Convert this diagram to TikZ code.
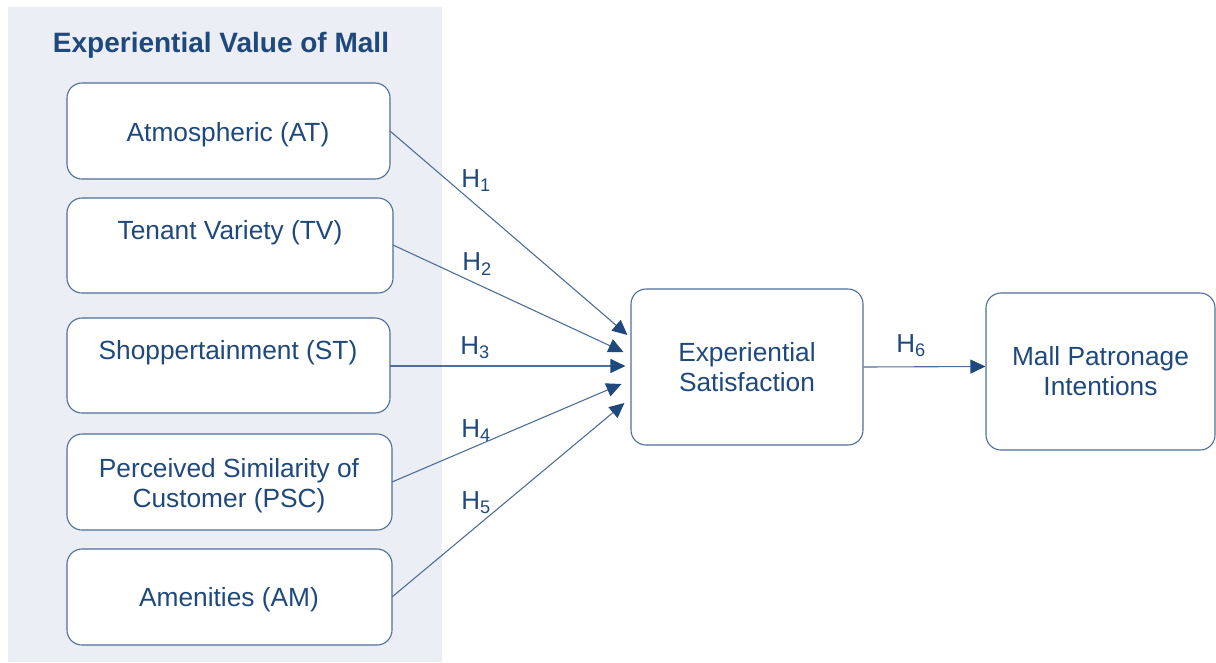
\documentclass[tikz,border=0pt]{standalone}
\usepackage{fontspec}
\setmainfont{Liberation Sans}
\usetikzlibrary{arrows.meta,calc}
\definecolor{panel}{HTML}{EBEEF4}
\definecolor{ink}{HTML}{1F497D}
\definecolor{edge}{HTML}{4F6E9A}
\tikzset{
  box/.style={draw=edge, line width=1.1pt, rounded corners=15pt, fill=white,
    inner sep=0pt},
  txt/.style={text=ink, align=center, font=\fontsize{26.3}{30}\selectfont, inner sep=0pt},
  hyp/.style={text=ink, font=\fontsize{26}{30}\selectfont, inner sep=0pt},
  link/.style={draw=edge, line width=1.1pt,
    -{Triangle[length=15pt,width=14pt,fill=ink,color=ink]}},
}
\begin{document}
\begin{tikzpicture}[x=1pt,y=-1pt]
\useasboundingbox (0,0) rectangle (1216,662);
% shaded group of value dimensions
\fill[panel] (8,7) rectangle (442,662);
\node[text=ink, font=\bfseries\fontsize{28}{32}\selectfont, inner sep=0pt] (title) at (221,45) {Experiential Value of Mall};

% dimension boxes
\draw[box] (67,83) rectangle (390,179);
\coordinate (at) at (390,131);
\node[txt] (atl) at (228,135) {Atmospheric (AT)};

\draw[box] (67,198) rectangle (393,293);
\coordinate (tv) at (393,245);
\node[txt] (tvl) at (230,233) {Tenant Variety (TV)};

\draw[box] (67,318) rectangle (390,413);
\coordinate (st) at (390,366);
\node[txt] (stl) at (228,353) {Shoppertainment (ST)};

\draw[box] (67,434) rectangle (392,530);
\coordinate (psc) at (392,482);
\node[txt] (pscl) at (229,486) {Perceived Similarity of\\Customer (PSC)};

\draw[box] (67,549) rectangle (392,645);
\coordinate (am) at (392,597);
\node[txt] (aml) at (229,600) {Amenities (AM)};

% outcome boxes
\node[box, minimum width=232pt, minimum height=156pt, txt] (es) at (747,367) {Experiential\\Satisfaction};
\node[box, minimum width=229pt, minimum height=157pt, txt] (mpi) at (1100.5,371.5) {Mall Patronage\\Intentions};

% hypothesised paths
\draw[link] (at) -- ($(es.west)+(-3,-32)$);
\draw[link] (tv) -- ($(es.west)+(-7,-15)$);
\draw[link] (st) -- ($(es.west)+(-5,-1)$);
\draw[link] (psc) -- ($(es.west)+(-9,17)$);
\draw[link] (am) -- ($(es.west)+(-6,36)$);
\draw[link] (es.east) -- ($(mpi.west)+(0,-5)$);

\node[hyp] (h1) at (476,181) {H\textsubscript{1}};
\node[hyp] (h2) at (477,264) {H\textsubscript{2}};
\node[hyp] (h3) at (475,348) {H\textsubscript{3}};
\node[hyp] (h4) at (476,431) {H\textsubscript{4}};
\node[hyp] (h5) at (476,503) {H\textsubscript{5}};
\node[hyp] (h6) at (911,346) {H\textsubscript{6}};
\end{tikzpicture}
\end{document}
